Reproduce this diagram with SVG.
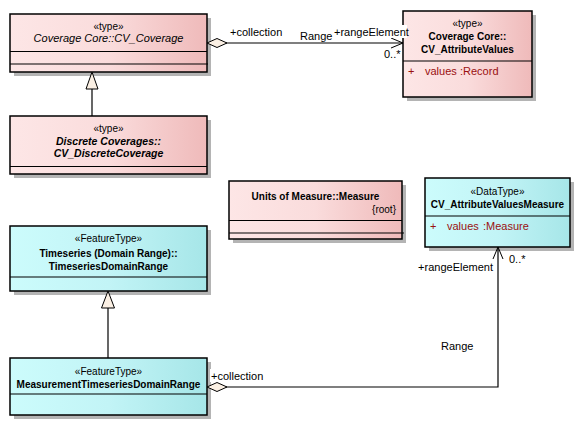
<svg xmlns="http://www.w3.org/2000/svg" width="581" height="426" viewBox="0 0 581 426">
  <defs>
    <linearGradient id="pink" x1="0" y1="0" x2="1" y2="0">
      <stop offset="0" stop-color="#fde6e6"/>
      <stop offset="0.5" stop-color="#fadcdc"/>
      <stop offset="1" stop-color="#efbaba"/>
    </linearGradient>
    <linearGradient id="cyan" x1="0" y1="0" x2="1" y2="0">
      <stop offset="0" stop-color="#ccfcfc"/>
      <stop offset="0.5" stop-color="#c2f4f6"/>
      <stop offset="1" stop-color="#a6e6e8"/>
    </linearGradient>
    <marker id="diamond" markerWidth="22" markerHeight="10" refX="0" refY="5" orient="auto" markerUnits="userSpaceOnUse">
      <path d="M0,5 L10,0.5 L20,5 L10,9.5 Z" fill="#fbf0e4" stroke="#000" stroke-width="1"/>
    </marker>
    <marker id="open" markerWidth="14" markerHeight="12" refX="13" refY="6" orient="auto" markerUnits="userSpaceOnUse">
      <path d="M1,1 L13,6 L1,11" fill="none" stroke="#000" stroke-width="1"/>
    </marker>
  </defs>
  <style>
    text { font-family: "Liberation Sans", Arial, sans-serif; font-size: 11px; fill: #000; }
    .st { font-size: 10px; }
    .b { font-weight: bold; font-size: 10px; }
    .bi { font-weight: bold; font-style: italic; font-size: 10.5px; }
    .i { font-style: italic; font-size: 11px; }
    .attr { fill: #9a1010; font-size: 11px; }
    .lbl { font-size: 11px; }
    .shadow { fill: #b4b4b4; }
    .box { stroke: #000; stroke-width: 1.5; }
    .div { stroke: #000; stroke-width: 1.2; }
    .conn { fill: none; stroke: #000; stroke-width: 1.2; }
    .tri { fill: #fbf0e4; stroke: #000; stroke-width: 1; }
  </style>
  <rect width="581" height="426" fill="#fff"/>

  <g id="cv_coverage">
    <rect class="shadow" x="14" y="18" width="197" height="58"/>
    <rect class="box" x="10" y="14" width="197" height="58" fill="url(#pink)"/>
    <line class="div" x1="10" y1="51.5" x2="207" y2="51.5"/>
    <line class="div" x1="10" y1="64" x2="208" y2="64"/>
    <text class="st" x="108.5" y="30" text-anchor="middle">«type»</text>
    <text class="i" x="108.5" y="42" text-anchor="middle">Coverage Core::CV_Coverage</text>
  </g>

  <g id="cv_attributevalues">
    <rect class="shadow" x="407" y="15" width="129" height="86"/>
    <rect class="box" x="403" y="11" width="129" height="86" fill="url(#pink)"/>
    <line class="div" x1="403" y1="61" x2="532" y2="61"/>
    <text class="st" x="467.5" y="27" text-anchor="middle">«type»</text>
    <text class="b" x="467.5" y="40" text-anchor="middle">Coverage Core::</text>
    <text class="b" x="467.5" y="53" text-anchor="middle">CV_AttributeValues</text>
    <text class="attr" x="408" y="75">+</text>
    <text class="attr" x="425" y="75">values</text>
    <text class="attr" x="460" y="75">:Record</text>
  </g>

  <g id="cv_discretecoverage">
    <rect class="shadow" x="14" y="120" width="197" height="58"/>
    <rect class="box" x="10" y="116" width="197" height="58" fill="url(#pink)"/>
    <line class="div" x1="10" y1="166.5" x2="207" y2="166.5"/>
    <text class="st" x="108.5" y="132" text-anchor="middle">«type»</text>
    <text class="bi" x="108.5" y="145" text-anchor="middle">Discrete Coverages::</text>
    <text class="bi" x="108.5" y="157" text-anchor="middle">CV_DiscreteCoverage</text>
  </g>

  <g id="measure">
    <rect class="shadow" x="233" y="185" width="173" height="58"/>
    <rect class="box" x="229" y="181" width="173" height="58" fill="url(#pink)"/>
    <line class="div" x1="229" y1="220.5" x2="402" y2="220.5"/>
    <line class="div" x1="229" y1="233" x2="404" y2="233"/>
    <text class="b" x="315.5" y="200" text-anchor="middle">Units of Measure::Measure</text>
    <text class="st" x="396" y="213" text-anchor="end">{root}</text>
  </g>

  <g id="cv_attributevaluesmeasure">
    <rect class="shadow" x="429" y="182" width="145" height="69"/>
    <rect class="box" x="425" y="178" width="145" height="69" fill="url(#cyan)"/>
    <line class="div" x1="425" y1="216" x2="570" y2="216"/>
    <text class="st" x="497.5" y="195" text-anchor="middle">«DataType»</text>
    <text class="b" x="497.5" y="208" text-anchor="middle">CV_AttributeValuesMeasure</text>
    <text class="attr" x="430" y="230">+</text>
    <text class="attr" x="447" y="230">values</text>
    <text class="attr" x="483" y="230">:Measure</text>
  </g>

  <g id="timeseriesdomainrange">
    <rect class="shadow" x="14" y="230" width="197" height="65"/>
    <rect class="box" x="10" y="226" width="197" height="65" fill="url(#cyan)"/>
    <line class="div" x1="10" y1="277" x2="207" y2="277"/>
    <text class="st" x="108.5" y="242" text-anchor="middle">«FeatureType»</text>
    <text class="b" x="108.5" y="257" text-anchor="middle">Timeseries (Domain Range)::</text>
    <text class="b" x="108.5" y="270" text-anchor="middle">TimeseriesDomainRange</text>
  </g>

  <g id="measurementtimeseriesdomainrange">
    <rect class="shadow" x="14" y="362" width="197" height="57"/>
    <rect class="box" x="10" y="358" width="197" height="57" fill="url(#cyan)"/>
    <line class="div" x1="10" y1="394" x2="207" y2="394"/>
    <text class="st" x="108.5" y="375" text-anchor="middle">«FeatureType»</text>
    <text class="b" x="108.5" y="388" text-anchor="middle">MeasurementTimeseriesDomainRange</text>
  </g>

  <g id="connectors">
    <!-- CV_Coverage aggregation to CV_AttributeValues -->
    <path class="conn" d="M207,43 L403,43" marker-start="url(#diamond)" marker-end="url(#open)"/>
    <text class="lbl" x="230" y="36">+collection</text>
    <text class="lbl" x="300" y="40">Range</text>
    <rect x="333" y="25" width="74" height="13" fill="#fff"/>
    <text class="lbl" x="334" y="36">+rangeElement</text>
    <text class="lbl" x="384" y="58">0..*</text>

    <!-- generalization CV_DiscreteCoverage to CV_Coverage -->
    <line class="conn" x1="92" y1="116" x2="92" y2="89"/>
    <path class="tri" d="M92,72 L98,89 L86,89 Z"/>

    <!-- generalization MeasurementTimeseriesDomainRange to TimeseriesDomainRange -->
    <line class="conn" x1="108" y1="358" x2="108" y2="308"/>
    <path class="tri" d="M108,291 L114.5,308 L101.5,308 Z"/>

    <!-- MeasurementTimeseriesDomainRange aggregation to CV_AttributeValuesMeasure -->
    <path class="conn" d="M207,387 L498,387 L498,247" marker-start="url(#diamond)" marker-end="url(#open)"/>
    <rect x="210" y="369" width="52" height="13" fill="#fff"/>
    <text class="lbl" x="211" y="380">+collection</text>
    <text class="lbl" x="441" y="350">Range</text>
    <text class="lbl" x="493" y="271" text-anchor="end">+rangeElement</text>
    <text class="lbl" x="509" y="263">0..*</text>
  </g>
</svg>
